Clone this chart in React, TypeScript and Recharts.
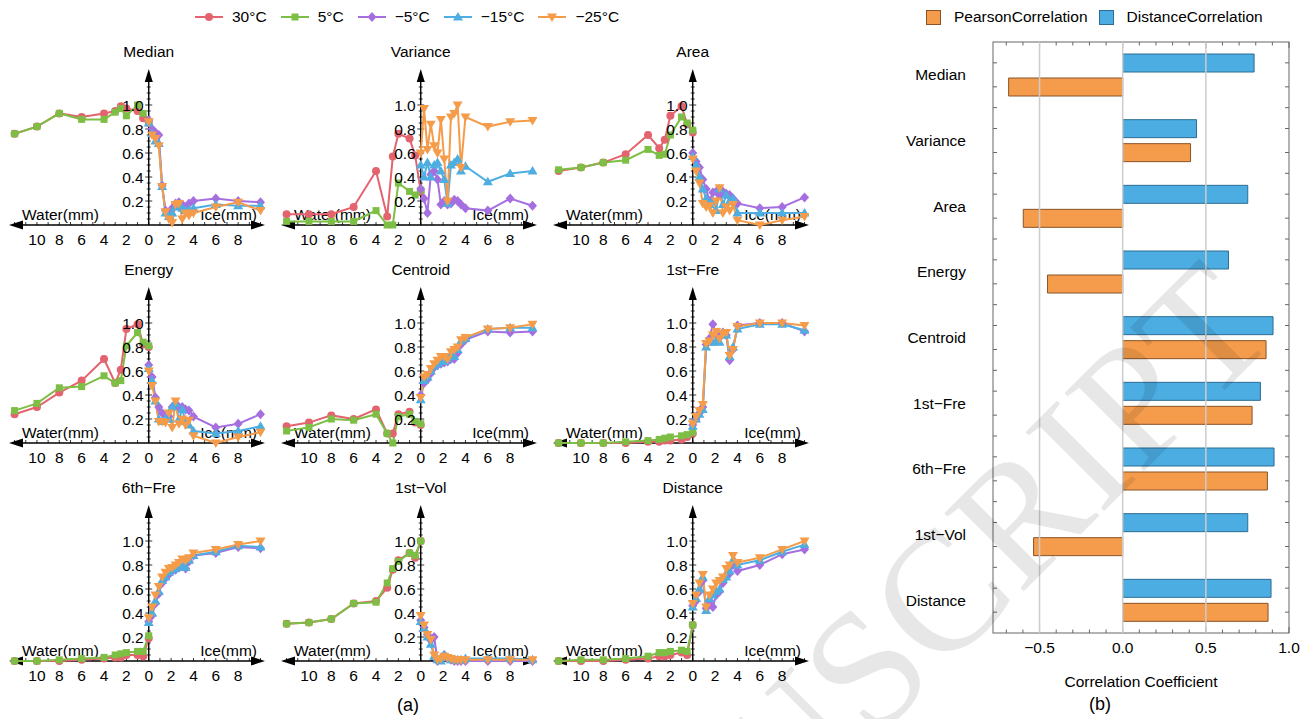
import React from "react";
import {
  LineChart,
  Line,
  XAxis,
  YAxis,
  ReferenceLine,
  ReferenceDot,
  ReferenceArea,
  BarChart,
  Bar,
} from "recharts";

// thickness (mm): water side is negative, ice side positive
const WATER_MM = [-12, -10, -8, -6, -4, -3, -2.5, -2, -1, -0.5, 0];
const ICE_MM = [0, 0.3, 0.6, 0.9, 1.2, 1.5, 1.8, 2.1, 2.4, 2.7, 3, 3.3, 3.6, 4, 6, 8, 10];
const X_TICKS = [-10, -8, -6, -4, -2, 0, 2, 4, 6, 8];
const Y_TICKS = [0.2, 0.4, 0.6, 0.8, 1.0];

// Median
const median30 = [0.76, 0.82, 0.93, 0.9, 0.93, 0.95, 0.99, 0.97, 0.95, 0.89, 0.85];
const median5 = [0.76, 0.82, 0.93, 0.88, 0.88, 0.94, 0.97, 0.91, 1.0, 0.93, 0.86];
const medianM5 = [0.87, 0.8, 0.77, 0.75, 0.33, 0.12, 0.1, 0.14, 0.18, 0.19, 0.17, 0.14, 0.18, 0.2, 0.22, 0.2, 0.19];
const medianM15 = [0.85, 0.76, 0.7, 0.68, 0.32, 0.1, 0.07, 0.1, 0.15, 0.16, 0.14, 0.12, 0.13, 0.14, 0.17, 0.16, 0.16];
const medianM25 = [0.86, 0.75, 0.72, 0.66, 0.32, 0.11, 0.05, 0.02, 0.17, 0.18, 0.05, 0.1, 0.08, 0.1, 0.15, 0.19, 0.12];

// Variance
const variance30 = [0.09, 0.09, 0.09, 0.15, 0.45, 0.07, 0.57, 0.76, 0.72, 0.58, 0.28];
const variance5 = [0.03, 0.03, 0.03, 0.03, 0.12, 0.0, 0.0, 0.35, 0.28, 0.25, 0.29];
const varianceM5 = [0.3, 0.22, 0.1, 0.42, 0.45, 0.38, 0.17, 0.2, 0.17, 0.18, 0.21, 0.2, 0.17, 0.14, 0.12, 0.22, 0.16];
const varianceM15 = [0.5, 0.4, 0.52, 0.4, 0.5, 0.52, 0.45, 0.38, 0.18, 0.5, 0.52, 0.55, 0.45, 0.49, 0.36, 0.43, 0.45];
const varianceM25 = [0.6, 0.97, 0.63, 0.84, 0.66, 0.6, 0.88, 0.55, 0.2, 0.9, 0.93, 1.0, 0.48, 0.9, 0.82, 0.86, 0.87];

// Area
const area30 = [0.45, 0.48, 0.52, 0.59, 0.75, 0.64, 0.71, 0.91, 0.99, 0.84, 0.77];
const area5 = [0.46, 0.48, 0.52, 0.54, 0.63, 0.58, 0.59, 0.75, 0.9, 0.85, 0.79];
const areaM5 = [0.6, 0.53, 0.48, 0.38, 0.3, 0.2, 0.27, 0.28, 0.25, 0.28, 0.26, 0.25, 0.22, 0.18, 0.14, 0.15, 0.23];
const areaM15 = [0.57, 0.5, 0.4, 0.3, 0.22, 0.17, 0.2, 0.12, 0.3, 0.17, 0.25, 0.2, 0.22, 0.1, 0.1, 0.1, 0.1];
const areaM25 = [0.55, 0.45, 0.35, 0.18, 0.15, 0.16, 0.1, 0.2, 0.31, 0.1, 0.15, 0.12, 0.17, 0.04, 0.0, 0.04, 0.07];

// Energy
const energy30 = [0.24, 0.3, 0.42, 0.52, 0.7, 0.5, 0.61, 0.95, 0.99, 0.82, 0.8];
const energy5 = [0.27, 0.33, 0.46, 0.47, 0.56, 0.5, 0.52, 0.81, 0.92, 0.84, 0.81];
const energyM5 = [0.65, 0.55, 0.38, 0.3, 0.25, 0.2, 0.22, 0.3, 0.33, 0.3, 0.3, 0.28, 0.27, 0.22, 0.13, 0.16, 0.24];
const energyM15 = [0.62, 0.52, 0.35, 0.2, 0.18, 0.2, 0.2, 0.3, 0.33, 0.2, 0.28, 0.18, 0.15, 0.1, 0.08, 0.1, 0.14];
const energyM25 = [0.6, 0.48, 0.35, 0.18, 0.18, 0.17, 0.25, 0.13, 0.35, 0.16, 0.2, 0.15, 0.19, 0.06, 0.0, 0.05, 0.09];

// Centroid
const centroid30 = [0.14, 0.17, 0.23, 0.2, 0.28, 0.08, 0.08, 0.24, 0.26, 0.17, 0.15];
const centroid5 = [0.1, 0.13, 0.2, 0.19, 0.24, 0.08, 0.0, 0.22, 0.24, 0.18, 0.16];
const centroidM5 = [0.4, 0.5, 0.53, 0.58, 0.63, 0.65, 0.66, 0.67, 0.68, 0.7, 0.7, 0.75, 0.82, 0.86, 0.93, 0.92, 0.93];
const centroidM15 = [0.36, 0.52, 0.55, 0.6, 0.64, 0.66, 0.69, 0.68, 0.7, 0.74, 0.72, 0.78, 0.85, 0.87, 0.95, 0.96, 0.96];
const centroidM25 = [0.38, 0.55, 0.57, 0.62, 0.66, 0.69, 0.72, 0.72, 0.7, 0.76, 0.78, 0.8, 0.86, 0.88, 0.95, 0.96, 0.99];

// 1st-Fre
const fre1_30 = [0.0, 0.0, 0.0, 0.0, 0.01, 0.01, 0.02, 0.02, 0.03, 0.05, 0.08];
const fre1_5 = [0.0, 0.0, 0.0, 0.01, 0.02, 0.03, 0.04, 0.05, 0.06, 0.07, 0.09];
const fre1M5 = [0.15, 0.2, 0.25, 0.3, 0.82, 0.87, 0.99, 0.9, 0.88, 0.92, 0.9, 0.69, 0.78, 0.98, 1.0, 1.0, 0.93];
const fre1M15 = [0.14, 0.2, 0.24, 0.28, 0.8, 0.84, 0.84, 0.85, 0.84, 0.9, 0.9, 0.72, 0.8, 0.95, 0.99, 0.99, 0.94];
const fre1M25 = [0.16, 0.22, 0.27, 0.32, 0.83, 0.85, 0.9, 0.93, 0.87, 0.91, 0.92, 0.73, 0.78, 0.97, 1.0, 1.0, 0.98];

// 6th-Fre
const fre6_30 = [0.0, 0.0, 0.0, 0.01, 0.02, 0.03, 0.03, 0.05, 0.05, 0.04, 0.19];
const fre6_5 = [0.0, 0.0, 0.01, 0.02, 0.03, 0.05, 0.06, 0.07, 0.08, 0.08, 0.21];
const fre6M5 = [0.33, 0.38, 0.48, 0.56, 0.65, 0.69, 0.72, 0.75, 0.76, 0.78, 0.79, 0.77, 0.83, 0.88, 0.9, 0.95, 0.94];
const fre6M15 = [0.32, 0.4, 0.5, 0.58, 0.67, 0.7, 0.74, 0.76, 0.77, 0.79, 0.8, 0.78, 0.84, 0.88, 0.91, 0.96, 0.95];
const fre6M25 = [0.36, 0.45, 0.55, 0.62, 0.7, 0.74, 0.77, 0.78, 0.8, 0.82, 0.85, 0.84, 0.86, 0.9, 0.93, 0.97, 1.0];

// 1st-Vol
const vol30 = [0.31, 0.32, 0.35, 0.48, 0.5, 0.61, 0.76, 0.84, 0.9, 0.86, 1.0];
const vol5 = [0.31, 0.32, 0.35, 0.48, 0.49, 0.65, 0.77, 0.83, 0.9, 0.88, 1.0];
const volM5 = [0.34, 0.28, 0.22, 0.17, 0.2, 0.0, 0.02, 0.05, 0.02, 0.01, 0.0, 0.0, 0.0, 0.0, 0.0, 0.0, 0.0];
const volM15 = [0.33, 0.27, 0.2, 0.14, 0.04, 0.01, 0.0, 0.05, 0.03, 0.01, 0.01, 0.01, 0.01, 0.02, 0.02, 0.02, 0.01];
const volM25 = [0.38, 0.3, 0.22, 0.18, 0.05, 0.01, 0.02, 0.04, 0.03, 0.02, 0.01, 0.01, 0.01, 0.01, 0.01, 0.01, 0.01];

// Distance
const dist30 = [0.0, 0.0, 0.0, 0.01, 0.02, 0.04, 0.04, 0.05, 0.07, 0.05, 0.3];
const dist5 = [0.0, 0.01, 0.01, 0.02, 0.04, 0.07, 0.07, 0.08, 0.09, 0.08, 0.3];
const distM5 = [0.46, 0.5, 0.58, 0.67, 0.44, 0.5, 0.45, 0.55, 0.58, 0.65, 0.7, 0.73, 0.8, 0.75, 0.8, 0.89, 0.93];
const distM15 = [0.45, 0.52, 0.6, 0.7, 0.42, 0.52, 0.55, 0.58, 0.6, 0.68, 0.7, 0.75, 0.84, 0.8, 0.84, 0.91, 0.97];
const distM25 = [0.48, 0.55, 0.65, 0.72, 0.45, 0.55, 0.6, 0.65, 0.67, 0.7, 0.77, 0.8, 0.88, 0.82, 0.86, 0.93, 1.0];

// (b) correlation coefficients
const FEATURES = ["Median", "Variance", "Area", "Energy", "Centroid", "1st\u2212Fre", "6th\u2212Fre", "1st\u2212Vol", "Distance"];
const PEARSON = [-0.686, 0.408, -0.598, -0.452, 0.862, 0.778, 0.87, -0.536, 0.874];
const DISTANCE = [0.79, 0.444, 0.752, 0.636, 0.904, 0.828, 0.91, 0.752, 0.892];

const SERIES = [
  { name: "30°C", color: "#E3636F", shape: "circle" },
  { name: "5°C", color: "#7DBE45", shape: "square" },
  { name: "\u22125°C", color: "#A66FE0", shape: "diamond" },
  { name: "\u221215°C", color: "#4EAEE2", shape: "up" },
  { name: "\u221225°C", color: "#F59C4A", shape: "down" },
];

const PANELS = [
  { title: "Median", values: [median30, median5, medianM5, medianM15, medianM25] },
  { title: "Variance", values: [variance30, variance5, varianceM5, varianceM15, varianceM25] },
  { title: "Area", values: [area30, area5, areaM5, areaM15, areaM25] },
  { title: "Energy", values: [energy30, energy5, energyM5, energyM15, energyM25] },
  { title: "Centroid", values: [centroid30, centroid5, centroidM5, centroidM15, centroidM25] },
  { title: "1st\u2212Fre", values: [fre1_30, fre1_5, fre1M5, fre1M15, fre1M25] },
  { title: "6th\u2212Fre", values: [fre6_30, fre6_5, fre6M5, fre6M15, fre6M25] },
  { title: "1st\u2212Vol", values: [vol30, vol5, volM5, volM15, volM25] },
  { title: "Distance", values: [dist30, dist5, distM5, distM15, distM25] },
];

const X_MIN = -12.5;
const X_MAX = 10.4;
const Y_MAX = 1.3;
const COL_LEFT = [0, 272, 544];
const ROW_AXIS = [225, 443, 661];
const B_MIN = -0.78;
const B_MAX = 1.0;

const FONT = "'Liberation Sans', Arial, sans-serif";

function Marker({ shape, cx, cy, color }: any) {
  if (cx == null || cy == null) return null;
  if (shape === "circle") return <circle cx={cx} cy={cy} r={4} fill={color} />;
  if (shape === "square") return <rect x={cx - 3.5} y={cy - 3.5} width={7} height={7} fill={color} />;
  if (shape === "diamond")
    return <polygon points={`${cx},${cy - 5} ${cx + 4.5},${cy} ${cx},${cy + 5} ${cx - 4.5},${cy}`} fill={color} />;
  if (shape === "up")
    return <polygon points={`${cx},${cy - 5} ${cx + 5},${cy + 3.5} ${cx - 5},${cy + 3.5}`} fill={color} />;
  return <polygon points={`${cx},${cy + 5} ${cx + 5},${cy - 3.5} ${cx - 5},${cy - 3.5}`} fill={color} />;
}

const dotFor = (shape: string, color: string) => (p: any) =>
  <Marker key={`d${p.index}`} shape={shape} cx={p.cx} cy={p.cy} color={color} />;

function renderXAxis(p: any) {
  const left = Math.min(p.x1, p.x2);
  const right = Math.max(p.x1, p.x2);
  const y = p.y1;
  const ticks = [];
  for (let v = -12; v <= 10; v++) {
    const tx = left + ((v - X_MIN) / (X_MAX - X_MIN)) * (right - left);
    ticks.push(<line key={v} x1={tx} x2={tx} y1={y} y2={y - 3} stroke="#000" strokeWidth={0.8} />);
  }
  return (
    <g>
      <line x1={left + 8} x2={right - 8} y1={y} y2={y} stroke="#000" strokeWidth={1.4} />
      <polygon points={`${left},${y} ${left + 14},${y - 4.5} ${left + 14},${y + 4.5}`} fill="#000" />
      <polygon points={`${right},${y} ${right - 14},${y - 4.5} ${right - 14},${y + 4.5}`} fill="#000" />
      {ticks}
      <text x={left + 13} y={y - 5} fontSize={15.5} fill="#000">Water(mm)</text>
      <text x={right - 8} y={y - 5} fontSize={15.5} fill="#000" textAnchor="end">Ice(mm)</text>
    </g>
  );
}

function renderYAxis(p: any, title: string) {
  const x = p.x1;
  const top = Math.min(p.y1, p.y2);
  const bottom = Math.max(p.y1, p.y2);
  const ticks = [];
  for (let i = 1; i <= 24; i++) {
    const v = i * 0.05;
    const ty = bottom - (v / Y_MAX) * (bottom - top);
    const len = i % 4 === 0 ? 3.5 : 2;
    ticks.push(<line key={i} x1={x - len} x2={x + len} y1={ty} y2={ty} stroke="#000" strokeWidth={0.8} />);
  }
  return (
    <g>
      <line x1={x} x2={x} y1={bottom} y2={top + 8} stroke="#000" strokeWidth={1.4} />
      <polygon points={`${x},${top} ${x - 4},${top + 13} ${x + 4},${top + 13}`} fill="#000" />
      {ticks}
      <text x={x} y={top - 18} fontSize={15.5} fill="#000" textAnchor="middle" dominantBaseline="central">
        {title}
      </text>
    </g>
  );
}

function Panel({ title, values, left, axisY }: any) {
  return (
    <div style={{ position: "absolute", left, top: axisY - 196 }}>
      <LineChart width={272} height={220} margin={{ top: 40, right: 7, bottom: 0, left: 9 }}>
        <XAxis
          type="number"
          dataKey="x"
          domain={[X_MIN, X_MAX]}
          allowDataOverflow
          ticks={X_TICKS}
          interval={0}
          tickFormatter={(v: number) => String(Math.abs(v))}
          axisLine={false}
          tickLine={false}
          tickMargin={3}
          height={24}
          tick={{ fill: "#000", fontSize: 15.5 }}
        />
        <YAxis type="number" dataKey="y" domain={[0, Y_MAX]} hide />
        <ReferenceLine y={0} shape={(p: any) => renderXAxis(p)} />
        <ReferenceLine x={0} shape={(p: any) => renderYAxis(p, title)} />
        {Y_TICKS.map((v) => (
          <ReferenceDot
            key={v}
            x={0}
            y={v}
            r={0}
            fill="none"
            stroke="none"
            label={{ value: v.toFixed(1), position: "left", offset: 5, fontSize: 15.5, fill: "#000" }}
          />
        ))}
        {SERIES.map((s, i) => {
          const xs = i < 2 ? WATER_MM : ICE_MM;
          const pts = xs.map((x, j) => ({ x, y: values[i][j] }));
          return (
            <Line
              key={s.name}
              data={pts}
              dataKey="y"
              type="linear"
              stroke={s.color}
              strokeWidth={2}
              dot={dotFor(s.shape, s.color)}
              activeDot={false}
              isAnimationActive={false}
            />
          );
        })}
      </LineChart>
    </div>
  );
}

function renderFrame(p: any) {
  const { x, y, width, height } = p;
  const marks = [];
  for (let k = -7; k <= 10; k++) {
    const v = k / 10;
    const tx = x + ((v - B_MIN) / (B_MAX - B_MIN)) * width;
    const len = k % 5 === 0 ? 6 : 3.5;
    marks.push(<line key={`t${k}`} x1={tx} x2={tx} y1={y} y2={y + len} />);
    marks.push(<line key={`b${k}`} x1={tx} x2={tx} y1={y + height} y2={y + height - len} />);
  }
  const gh = height / FEATURES.length;
  for (let g = 0; g < FEATURES.length; g++) {
    const c = y + g * gh + gh / 2;
    const ys = [c - 12, c + 12];
    if (g > 0) ys.push(y + g * gh);
    ys.forEach((ty, i) => {
      marks.push(<line key={`l${g}-${i}`} x1={x} x2={x + 4} y1={ty} y2={ty} />);
      marks.push(<line key={`r${g}-${i}`} x1={x + width} x2={x + width - 4} y1={ty} y2={ty} />);
    });
  }
  return (
    <g stroke="#666" strokeWidth={1}>
      <rect x={x} y={y} width={width} height={height} fill="none" />
      {marks}
    </g>
  );
}

function CorrelationChart() {
  const data = FEATURES.map((name, i) => ({ name, pearson: PEARSON[i], distance: DISTANCE[i] }));
  return (
    <div style={{ position: "absolute", left: 863, top: 30 }}>
      <BarChart
        layout="vertical"
        width={441}
        height={663}
        data={data}
        margin={{ top: 12, right: 15, bottom: 0, left: 0 }}
        barSize={18}
        barGap={6}
      >
        <XAxis
          type="number"
          domain={[B_MIN, B_MAX]}
          allowDataOverflow
          ticks={[-0.5, 0, 0.5, 1]}
          interval={0}
          tickFormatter={(v: number) => (v < 0 ? "\u2212" : "") + Math.abs(v).toFixed(1)}
          axisLine={false}
          tickLine={false}
          tickMargin={3}
          height={60}
          tick={{ fill: "#000", fontSize: 15.5 }}
          label={{ value: "Correlation Coefficient", position: "insideBottom", offset: 6, fontSize: 15.5, fill: "#000" }}
        />
        <YAxis
          type="category"
          dataKey="name"
          width={130}
          axisLine={false}
          tickLine={false}
          tickSize={0}
          tickMargin={27}
          interval={0}
          tick={{ fill: "#000", fontSize: 15.5 }}
        />
        <ReferenceLine x={-0.5} stroke="#cccccc" strokeWidth={1.5} />
        <ReferenceLine x={0} stroke="#cccccc" strokeWidth={1.5} />
        <ReferenceLine x={0.5} stroke="#cccccc" strokeWidth={1.5} />
        <ReferenceArea x1={B_MIN} x2={B_MAX} shape={(p: any) => renderFrame(p)} />
        <Bar dataKey="distance" fill="#4BADE1" stroke="#2D6C94" strokeWidth={1} isAnimationActive={false} />
        <Bar dataKey="pearson" fill="#F49C4C" stroke="#8A5426" strokeWidth={1} isAnimationActive={false} />
      </BarChart>
    </div>
  );
}

function SeriesLegend() {
  return (
    <div style={{ position: "absolute", left: 195, top: 8, display: "flex", alignItems: "center", fontSize: 15.5 }}>
      {SERIES.map((s) => (
        <div key={s.name} style={{ display: "flex", alignItems: "center", marginRight: 14 }}>
          <svg width={28} height={12} style={{ marginRight: 9 }}>
            <line x1={0} x2={28} y1={6} y2={6} stroke={s.color} strokeWidth={2} />
            <Marker shape={s.shape} cx={14} cy={6} color={s.color} />
          </svg>
          <span>{s.name}</span>
        </div>
      ))}
    </div>
  );
}

function BarLegend() {
  const items = [
    { name: "PearsonCorrelation", fill: "#F49C4C", stroke: "#8A5426" },
    { name: "DistanceCorrelation", fill: "#4BADE1", stroke: "#2D6C94" },
  ];
  return (
    <div style={{ position: "absolute", left: 926, top: 8, display: "flex", alignItems: "center", fontSize: 15.5 }}>
      {items.map((it) => (
        <div key={it.name} style={{ display: "flex", alignItems: "center", marginRight: 11 }}>
          <div
            style={{ width: 13, height: 13, background: it.fill, border: `1px solid ${it.stroke}`, marginRight: 13 }}
          />
          <span>{it.name}</span>
        </div>
      ))}
    </div>
  );
}

export default function App() {
  return (
    <div
      style={{
        position: "absolute",
        left: 0,
        top: 0,
        width: 1310,
        height: 719,
        background: "#fff",
        overflow: "hidden",
        fontFamily: FONT,
        color: "#000",
      }}
    >
      <SeriesLegend />
      {PANELS.map((pn, i) => (
        <Panel
          key={pn.title}
          title={pn.title}
          values={pn.values}
          left={COL_LEFT[i % 3]}
          axisY={ROW_AXIS[Math.floor(i / 3)]}
        />
      ))}
      <BarLegend />
      <CorrelationChart />
      <div style={{ position: "absolute", left: 408, top: 705, transform: "translate(-50%, -50%)", fontSize: 18 }}>
        (a)
      </div>
      <div style={{ position: "absolute", left: 1100, top: 704, transform: "translate(-50%, -50%)", fontSize: 18 }}>
        (b)
      </div>
      <svg width={1310} height={719} style={{ position: "absolute", left: 0, top: 0, pointerEvents: "none" }}>
        <text
          x={1280}
          y={335}
          transform="rotate(-45 1280 335)"
          textAnchor="end"
          fontSize={170}
          fontFamily="'Liberation Serif', 'Times New Roman', serif"
          fill="#000"
          opacity={0.09}
        >
          MANUSCRIPT
        </text>
      </svg>
    </div>
  );
}
